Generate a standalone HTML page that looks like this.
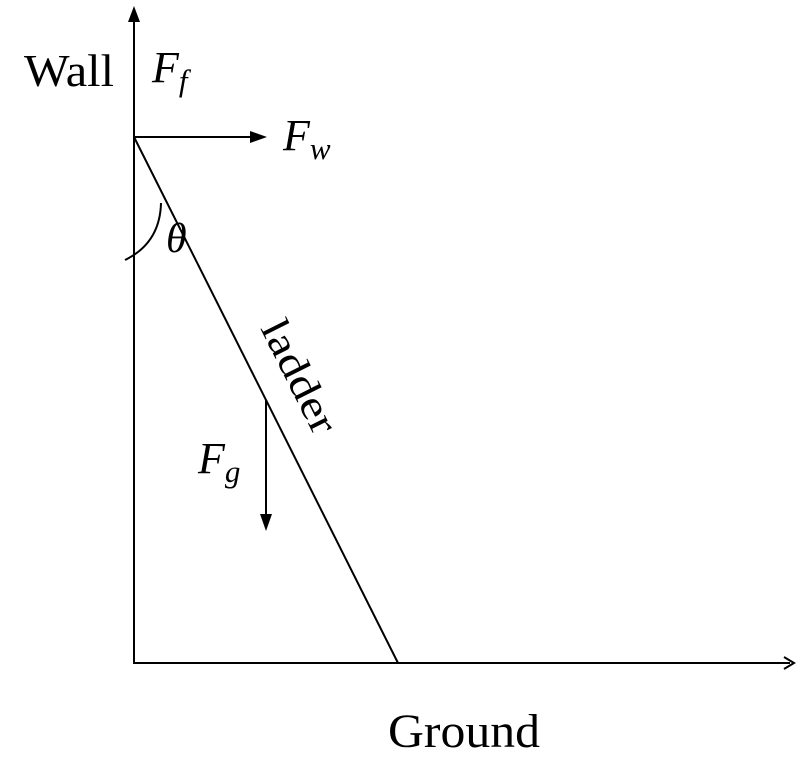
<!DOCTYPE html>
<html><head><style>
html,body{margin:0;padding:0;background:#fff;}
svg{display:block;}
text{font-family:"Liberation Serif",serif;fill:#000;}
.i{font-style:italic;}
</style></head><body>
<svg width="800" height="776" viewBox="0 0 800 776" xmlns="http://www.w3.org/2000/svg">
<g stroke="#000" stroke-width="2" fill="none">
<line x1="134" y1="664" x2="134" y2="14"/>
<line x1="133" y1="663" x2="790" y2="663"/>
<line x1="134" y1="137" x2="398" y2="663"/>
<line x1="134" y1="137" x2="252" y2="137"/>
<line x1="266" y1="400" x2="266" y2="516"/>
<path d="M161,203 Q160,243 125,260"/>
<path d="M784,657 L794,663 L784,669"/>
</g>
<g fill="#000">
<polygon points="134,6 128,22 140,22"/>
<polygon points="267,137 250,131 250,143"/>
<polygon points="266,531 260,514 272,514"/>
</g>
<text x="24" y="86" font-size="46" textLength="90" lengthAdjust="spacingAndGlyphs">Wall</text>
<text x="152" y="82" font-size="44" class="i">F<tspan font-size="31" dy="9">f</tspan></text>
<text x="283" y="150" font-size="44" class="i">F<tspan font-size="31" dy="9">w</tspan></text>
<text x="166" y="252" font-size="42" class="i">θ</text>
<text x="198" y="473" font-size="44" class="i">F<tspan font-size="31" dy="9">g</tspan></text>
<text x="388" y="747" font-size="48" textLength="152" lengthAdjust="spacingAndGlyphs">Ground</text>
<text x="0" y="0" font-size="41" textLength="122" lengthAdjust="spacingAndGlyphs" transform="translate(260,328) rotate(63.3)">ladder</text>
</svg>
</body></html>
